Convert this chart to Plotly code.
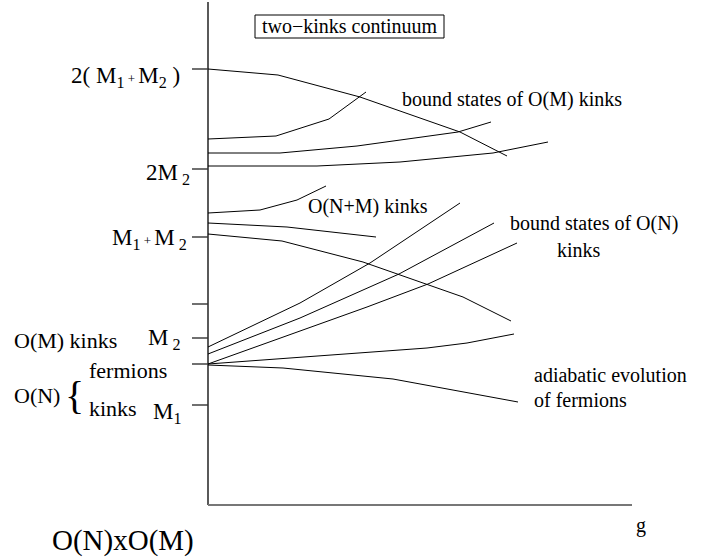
import plotly.graph_objects as go

# ---- data (g = coupling, E = energy, arbitrary schematic units) ----
level_E = [4.36, 3.36, 2.68, 2.01, 1.67, 1.41, 1.00]   # tick levels on the energy axis
PLUS = "<span style='font-size:13px'> + </span>"
level_labels = ["2( M<sub>1</sub>" + PLUS + "M<sub>2</sub> )",
                "2M<sub> 2</sub>",
                "M<sub>1</sub>" + PLUS + "M<sub> 2</sub>",
                "",
                "M<sub> 2</sub>",
                "",
                "M<sub>1</sub>"]

g_fall_top = [0, 0.70, 1.52, 2.52, 2.99]
E_fall_top = [4.36, 4.30, 4.08, 3.73, 3.49]

g_rise_top = [0, 0.68, 1.21, 1.58]
E_rise_top = [3.66, 3.69, 3.86, 4.13]

g_om_1 = [0, 0.72, 1.49, 2.50, 2.83]
E_om_1 = [3.52, 3.52, 3.59, 3.73, 3.83]

g_om_2 = [0, 1.09, 1.92, 2.85, 3.40]
E_om_2 = [3.39, 3.39, 3.43, 3.52, 3.63]

g_nm_1 = [0, 0.52, 0.89, 1.18]
E_nm_1 = [2.92, 2.95, 3.05, 3.19]

g_nm_2 = [0, 0.79, 1.68]
E_nm_2 = [2.82, 2.78, 2.68]

g_nm_3 = [0, 0.74, 1.55, 2.55, 3.03]
E_nm_3 = [2.71, 2.64, 2.43, 2.08, 1.84]

g_on_a = [0, 0.92, 1.62, 2.52]
E_on_a = [1.58, 2.02, 2.42, 3.02]

g_on_b = [0, 0.92, 1.91, 2.86]
E_on_b = [1.51, 1.87, 2.31, 2.82]

g_on_c = [0, 0.92, 1.59, 2.20, 3.09]
E_on_c = [1.41, 1.74, 1.98, 2.21, 2.62]

g_ferm_up = [0, 1.52, 2.19, 2.59, 3.06]
E_ferm_up = [1.41, 1.52, 1.57, 1.62, 1.71]

g_ferm_dn = [0, 0.75, 1.85, 3.10]
E_ferm_dn = [1.40, 1.37, 1.26, 1.03]

curves = [(g_fall_top, E_fall_top), (g_rise_top, E_rise_top), (g_om_1, E_om_1),
          (g_om_2, E_om_2), (g_nm_1, E_nm_1), (g_nm_2, E_nm_2), (g_nm_3, E_nm_3),
          (g_on_a, E_on_a), (g_on_b, E_on_b), (g_on_c, E_on_c),
          (g_ferm_up, E_ferm_up), (g_ferm_dn, E_ferm_dn)]

g_axis_max = 4.24
E_axis_max = 5.03
tick_len = 0.16

SERIF = "Liberation Serif"

fig = go.Figure()

# axes
fig.add_trace(go.Scatter(x=[0, 0], y=[0, E_axis_max], mode="lines",
                         line=dict(color="black", width=1.3), hoverinfo="skip"))
fig.add_trace(go.Scatter(x=[0, g_axis_max], y=[0, 0], mode="lines",
                         line=dict(color="#777777", width=1.8), hoverinfo="skip"))

# ticks
tx, ty = [], []
for e in level_E:
    tx += [-tick_len, 0, None]
    ty += [e, e, None]
fig.add_trace(go.Scatter(x=tx, y=ty, mode="lines",
                         line=dict(color="#333333", width=1.4), hoverinfo="skip"))

for gx, ey in curves:
    fig.add_trace(go.Scatter(x=gx, y=ey, mode="lines",
                             line=dict(color="black", width=1), hoverinfo="skip"))

ann = []
def A(text, x, y, size, xanchor="left", **kw):
    ann.append(dict(text=text, x=x, y=y, xref="x", yref="y", showarrow=False,
                    xanchor=xanchor, yanchor="middle",
                    font=dict(family=SERIF, size=size, color="black"), **kw))

# level labels (right-anchored, left of ticks)
label_pos = {0: (-0.26, 4.28), 1: (-0.16, 3.31), 2: (-0.19, 2.66),
             4: (-0.25, 1.66), 6: (-0.24, 0.925)}
for i, (gx, ey) in label_pos.items():
    A(level_labels[i], gx, ey, 23, xanchor="right")

A("two\u2212kinks continuum", 1.415, 4.795, 20, xanchor="center")
A("bound states of O(M) kinks", 1.92, 4.058, 20)
A("O(N+M) kinks", 0.98, 2.985, 20)
A("bound states of O(N)", 3.003, 2.818, 20)
A("kinks", 3.47, 2.551, 20)
A("adiabatic evolution", 3.237, 1.301, 20)
A("of fermions", 3.237, 1.051, 20)
A("g", 4.33, -0.204, 20, xanchor="center")
A("O(N)xO(M)", -1.585, -0.355, 29)
A("O(M) kinks", -1.96, 1.642, 22)
A("fermions", -1.21, 1.342, 22)
A("kinks", -1.21, 0.965, 22)
A("O(N)", -1.96, 1.098, 22)
A("{", -1.34, 1.093, 40, xanchor="center")

fig.update_layout(
    width=722, height=559,
    margin=dict(l=0, r=0, t=0, b=0),
    paper_bgcolor="white", plot_bgcolor="white",
    showlegend=False,
    xaxis=dict(range=[-2.08, 5.14], visible=False, fixedrange=True),
    yaxis=dict(range=[-0.54, 5.05], visible=False, fixedrange=True),
    annotations=ann,
    shapes=[dict(type="rect", xref="x", yref="y", x0=0.47, x1=2.36, y0=4.67, y1=4.90,
                 line=dict(color="black", width=1))],
)

fig.write_html("out.html", config={"displayModeBar": False, "staticPlot": True},
               post_script="document.body.style.margin='0px';")
